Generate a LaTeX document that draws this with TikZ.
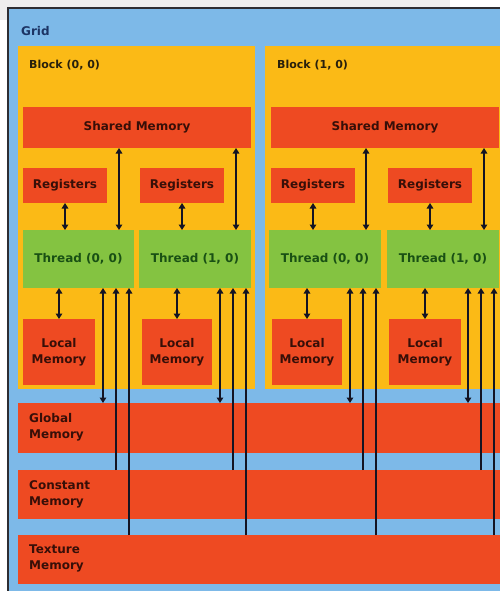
\documentclass[tikz,border=0pt]{standalone}
\usepackage{fontspec}
\setmainfont{DejaVu Sans}
\usetikzlibrary{arrows.meta,calc}
\definecolor{gridblue}{RGB}{125,185,232}
\definecolor{blockyel}{RGB}{251,186,22}
\definecolor{memred}{RGB}{238,74,34}
\definecolor{thrgreen}{RGB}{132,195,65}
\definecolor{gridtxt}{RGB}{28,52,100}
\definecolor{blocktxt}{RGB}{40,32,12}
\definecolor{memtxt}{RGB}{55,15,8}
\definecolor{thrtxt}{RGB}{25,80,20}
\definecolor{arrowc}{RGB}{20,20,35}
\definecolor{frame}{RGB}{45,45,50}
\definecolor{wm}{RGB}{238,238,238}
\begin{document}
\begin{tikzpicture}[x=1pt,y=-1pt,
  box/.style={anchor=north west, inner sep=0pt, outer sep=0pt},
  lbl/.style={font=\bfseries\fontsize{12}{16}\selectfont, inner sep=0pt},
  blk/.style={box, fill=blockyel, minimum width=237pt, minimum height=343pt},
  mem/.style={box, fill=memred, text=memtxt, font=\bfseries\fontsize{12}{16}\selectfont, align=center},
  thr/.style={box, fill=thrgreen, text=thrtxt, font=\bfseries\fontsize{12}{16}\selectfont, minimum height=58pt},
  tip/.tip={Triangle[length=5.5pt,width=6.5pt]},
  arr/.style={line width=1.5pt, draw=arrowc, -tip},
  dbl/.style={line width=1.5pt, draw=arrowc, tip-tip}]
\useasboundingbox (0,0) rectangle (500,591);
\clip (0,0) rectangle (500,591);
\fill[white] (0,0) rectangle (500,591);
\fill[wm] (0,0) rectangle (450,20);
% grid
\node[box, fill=gridblue, draw=frame, line width=1.5pt, minimum width=520pt, minimum height=620pt] (grid) at (8,8) {};
\node[lbl, text=gridtxt, anchor=west] (gridlbl) at (21,31) {Grid};
% blocks
\node[blk] (block0) at (18,46) {};
\node[blk] (block1) at (265,46) {};
\node[lbl, text=blocktxt, anchor=west, font=\bfseries\fontsize{11}{14}\selectfont] (b0lbl) at (29,65) {Block (0, 0)};
\node[lbl, text=blocktxt, anchor=west, font=\bfseries\fontsize{11}{14}\selectfont] (b1lbl) at (277,65) {Block (1, 0)};
% shared memory
\node[mem, minimum width=228pt, minimum height=41pt] (shared0) at (23,107) {Shared Memory};
\node[mem, minimum width=228pt, minimum height=41pt] (shared1) at (271,107) {Shared Memory};
% registers
\node[mem, minimum width=84pt, minimum height=35pt] (reg00) at (23,168) {Registers};
\node[mem, minimum width=84pt, minimum height=35pt] (reg01) at (140,168) {Registers};
\node[mem, minimum width=84pt, minimum height=35pt] (reg10) at (271,168) {Registers};
\node[mem, minimum width=84pt, minimum height=35pt] (reg11) at (388,168) {Registers};
% threads
\node[thr, minimum width=111pt] (thr00) at (23,230) {Thread (0, 0)};
\node[thr, minimum width=112pt] (thr01) at (139,230) {Thread (1, 0)};
\node[thr, minimum width=112pt] (thr10) at (269,230) {Thread (0, 0)};
\node[thr, minimum width=112pt] (thr11) at (387,230) {Thread (1, 0)};
% local memories
\node[mem, minimum width=72pt, minimum height=66pt] (loc00) at (23,319) {Local\\Memory};
\node[mem, minimum width=70pt, minimum height=66pt] (loc01) at (142,319) {Local\\Memory};
\node[mem, minimum width=70pt, minimum height=66pt] (loc10) at (272,319) {Local\\Memory};
\node[mem, minimum width=72pt, minimum height=66pt] (loc11) at (389,319) {Local\\Memory};
% global memories
\node[box, fill=memred, minimum width=500pt, minimum height=50pt] (global) at (18,403) {};
\node[box, fill=memred, minimum width=500pt, minimum height=49pt] (constant) at (18,470) {};
\node[box, fill=memred, minimum width=500pt, minimum height=49pt] (texture) at (18,535) {};
\node[lbl, text=memtxt, anchor=west, align=left] (globallbl) at (29,427) {Global\\Memory};
\node[lbl, text=memtxt, anchor=west, align=left] (constlbl) at (29,494) {Constant\\Memory};
\node[lbl, text=memtxt, anchor=west, align=left] (texlbl) at (29,558) {Texture\\Memory};
% connectors
\foreach \t/\r/\s/\l in {thr00/reg00/shared0/loc00, thr01/reg01/shared0/loc01, thr10/reg10/shared1/loc10, thr11/reg11/shared1/loc11}{
  \draw[dbl] (\r.south) -- (\r.south |- \t.north);
  \draw[dbl] ([xshift=-15pt]\t.north east) -- ([xshift=-15pt]\t.north east |- \s.south);
  \draw[dbl] (\l.north) -- (\l.north |- \t.south);
  \draw[dbl] ([xshift=-31pt]\t.south east) -- ([xshift=-31pt]\t.south east |- global.north);
  \draw[arr] ([xshift=-18pt]\t.south east |- constant.north) -- ([xshift=-18pt]\t.south east);
  \draw[arr] ([xshift=-5pt]\t.south east |- texture.north) -- ([xshift=-5pt]\t.south east);
}
\end{tikzpicture}
\end{document}
